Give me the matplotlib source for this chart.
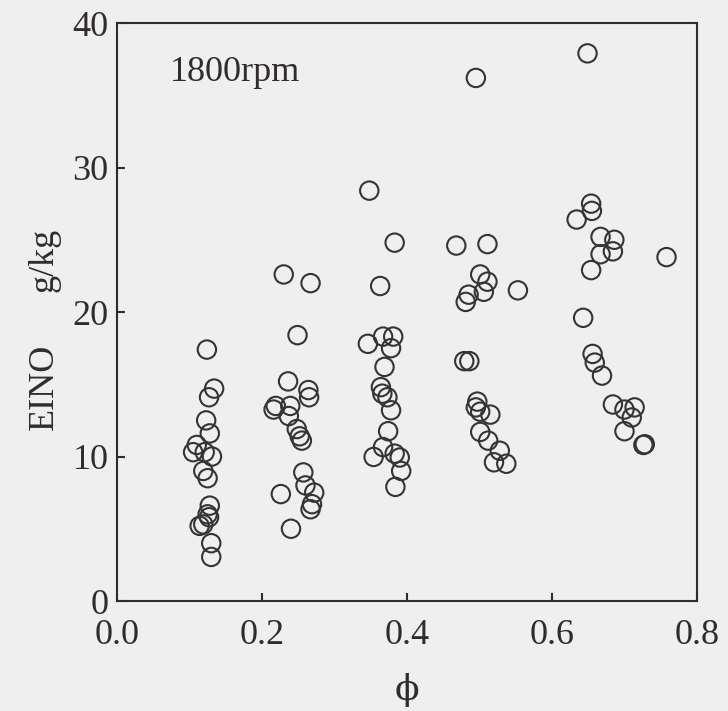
"""EINO vs equivalence ratio at 1800 rpm (scatter of open circles)."""

import matplotlib

matplotlib.use("Agg")
import matplotlib.pyplot as plt

# ---------------------------------------------------------------------------
# Data (five load groups)
# ---------------------------------------------------------------------------

phi_g1 = [0.124, 0.134, 0.127, 0.123, 0.128, 0.110, 0.105, 0.121, 0.131,
          0.119, 0.125, 0.128, 0.125, 0.119, 0.114, 0.127, 0.130, 0.130]
eino_g1 = [17.4, 14.7, 14.1, 12.5, 11.6, 10.8, 10.3, 10.3, 10.0,
           9.0, 8.5, 6.6, 6.0, 5.3, 5.2, 5.8, 4.0, 3.05]

phi_g2 = [0.230, 0.267, 0.249, 0.236, 0.264, 0.265, 0.219, 0.216, 0.239, 0.237,
          0.248, 0.252, 0.255, 0.257, 0.260, 0.272, 0.269, 0.267, 0.226, 0.240]
eino_g2 = [22.6, 22.0, 18.4, 15.2, 14.6, 14.1, 13.5, 13.25, 13.5, 12.8,
           11.9, 11.4, 11.1, 8.9, 8.0, 7.5, 6.7, 6.35, 7.4, 5.0]

phi_g3 = [0.348, 0.383, 0.363, 0.346, 0.367, 0.381, 0.378, 0.369, 0.364, 0.373,
          0.366, 0.378, 0.374, 0.367, 0.354, 0.383, 0.390, 0.392, 0.384]
eino_g3 = [28.4, 24.8, 21.8, 17.8, 18.3, 18.3, 17.5, 16.2, 14.8, 14.1,
           14.35, 13.2, 11.75, 10.65, 9.97, 10.2, 9.93, 9.0, 7.9]

phi_g4 = [0.495, 0.468, 0.511, 0.501, 0.511, 0.506, 0.485, 0.481, 0.553, 0.479,
          0.486, 0.497, 0.495, 0.501, 0.515, 0.501, 0.512, 0.528, 0.520, 0.537]
eino_g4 = [36.2, 24.6, 24.7, 22.6, 22.1, 21.4, 21.2, 20.7, 21.5, 16.6,
           16.6, 13.8, 13.4, 13.1, 12.9, 11.7, 11.1, 10.4, 9.6, 9.5]

phi_g5 = [0.649, 0.654, 0.655, 0.634, 0.667, 0.686, 0.684, 0.667, 0.654, 0.758,
          0.643, 0.656, 0.659, 0.669, 0.684, 0.700, 0.714, 0.710, 0.700, 0.726,
          0.728]
eino_g5 = [37.9, 27.5, 27.0, 26.4, 25.2, 25.0, 24.2, 24.0, 22.9, 23.8,
           19.6, 17.1, 16.5, 15.6, 13.6, 13.25, 13.4, 12.7, 11.75, 10.8,
           10.85]

groups = [(phi_g1, eino_g1), (phi_g2, eino_g2), (phi_g3, eino_g3),
          (phi_g4, eino_g4), (phi_g5, eino_g5)]

x_ticks = [0.0, 0.2, 0.4, 0.6, 0.8]
y_ticks = [0, 10, 20, 30, 40]

# ---------------------------------------------------------------------------
# Style
# ---------------------------------------------------------------------------

_C = {
    "bg": "#f0eff0",
    "ink": "#302b2c",
    "mark": "#363334",
}
SERIF = ["Liberation Serif", "DejaVu Serif"]
FS = 26

plt.rcParams["font.family"] = SERIF

fig = plt.figure(figsize=(7.28, 7.11), dpi=100, facecolor=_C["bg"])
ax = fig.add_axes([0.1607, 0.1547, 0.7967, 0.8129])
ax.set_facecolor(_C["bg"])

for phi, eino in groups:
    ax.scatter(phi, eino, s=175, facecolors="none", edgecolors=_C["mark"],
               linewidths=1.5, zorder=3, clip_on=False)

ax.set_xlim(0.0, 0.8)
ax.set_ylim(0, 40)
ax.set_xticks(x_ticks)
ax.set_yticks(y_ticks)
ax.set_xticklabels([f"{v:.1f}" for v in x_ticks])
ax.set_yticklabels([str(v) for v in y_ticks])

for side in ("top", "right", "bottom", "left"):
    ax.spines[side].set_color(_C["ink"])
    ax.spines[side].set_linewidth(1.5)

ax.tick_params(axis="both", direction="in", length=6, width=1.5,
               color=_C["ink"], labelsize=FS, labelcolor=_C["ink"])
ax.tick_params(axis="x", pad=13)
ax.tick_params(axis="y", pad=6)

ax.set_xlabel("\u03d5", fontsize=FS, color=_C["ink"], labelpad=15,
              family=["DejaVu Serif"])
ax.text(-0.125, 0.37, "EINO", transform=ax.transAxes, rotation=90,
        fontsize=FS, color=_C["ink"], ha="center", va="center")
ax.text(-0.125, 0.59, "g/kg", transform=ax.transAxes, rotation=90,
        fontsize=FS, color=_C["ink"], ha="center", va="center")

ax.text(0.073, 36.6, "1800rpm", fontsize=FS, color=_C["ink"],
        ha="left", va="center")

fig.savefig("out.png", dpi=100, facecolor=_C["bg"])
plt.close(fig)
